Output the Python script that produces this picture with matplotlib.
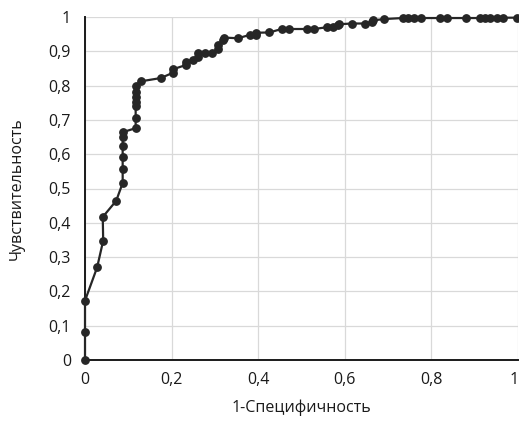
import matplotlib
matplotlib.use("Agg")
import matplotlib.pyplot as plt
from matplotlib.ticker import FixedLocator, FuncFormatter
import matplotlib.transforms as mtransforms

plt.rcParams['font.family'] = ['Open Sans', 'DejaVu Sans']

fpr = [0, 0, 0, 0.028, 0.042, 0.041, 0.072, 0.087, 0.087, 0.087, 0.087, 0.087, 0.087,
       0.117, 0.117, 0.117, 0.117, 0.117, 0.117, 0.117, 0.129, 0.175, 0.204, 0.204,
       0.233, 0.233, 0.249, 0.262, 0.262, 0.277, 0.293, 0.308, 0.308, 0.319, 0.322,
       0.353, 0.381, 0.395, 0.395, 0.426, 0.454, 0.470, 0.513, 0.529, 0.558, 0.573,
       0.585, 0.587, 0.617, 0.647, 0.662, 0.664, 0.691, 0.734, 0.747, 0.760, 0.775,
       0.821, 0.835, 0.881, 0.912, 0.924, 0.935, 0.951, 0.966, 0.997]
tpr = [0, 0.083, 0.173, 0.270, 0.348, 0.417, 0.464, 0.516, 0.556, 0.593, 0.624, 0.651, 0.664,
       0.676, 0.706, 0.740, 0.753, 0.768, 0.782, 0.799, 0.8125, 0.822, 0.838, 0.848,
       0.860, 0.870, 0.875, 0.884, 0.894, 0.894, 0.894, 0.906, 0.918, 0.933, 0.940,
       0.938, 0.948, 0.948, 0.954, 0.955, 0.965, 0.965, 0.965, 0.965, 0.970, 0.970,
       0.976, 0.979, 0.981, 0.981, 0.985, 0.990, 0.994, 0.997, 0.997, 0.997, 0.997,
       0.997, 0.997, 0.997, 0.997, 0.997, 0.997, 0.998, 0.998, 0.998]

x_ticks = [0, 0.2, 0.4, 0.6, 0.8, 1.0]
y_ticks = [0, 0.1, 0.2, 0.3, 0.4, 0.5, 0.6, 0.7, 0.8, 0.9, 1.0]
x_label = "1-Специфичность"
y_label = "Чувствительность"

fig = plt.figure(figsize=(5.19, 4.26), dpi=100)
ax = fig.add_axes([85/519, 66/426, 433/519, 343/426])

ax.plot(fpr, tpr, color='#262626', lw=1.6, marker='o', ms=5.3, clip_on=False, zorder=3)

ax.set_xlim(0, 1)
ax.set_ylim(0, 1)
ax.xaxis.set_major_locator(FixedLocator(x_ticks))
ax.yaxis.set_major_locator(FixedLocator(y_ticks))

def fmt(v, pos):
    s = f"{v:.1f}".rstrip('0').rstrip('.')
    return s.replace('.', ',')

ax.xaxis.set_major_formatter(FuncFormatter(fmt))
ax.yaxis.set_major_formatter(FuncFormatter(fmt))

ax.grid(True, color='#d9d9d9', lw=0.9)
ax.set_axisbelow(True)
for s in ['top', 'right']:
    ax.spines[s].set_visible(False)
for s in ['left', 'bottom']:
    ax.spines[s].set_color('#1a1a1a')
    ax.spines[s].set_linewidth(1.4)

ax.tick_params(axis='both', length=0, labelsize=11.5, colors='#1a1a1a')
ax.tick_params(axis='x', pad=9)
ax.tick_params(axis='y', pad=10)

ax.set_xlabel(x_label, fontsize=11.5, labelpad=8, color='#1a1a1a')
ax.set_ylabel(y_label, fontsize=11.5, labelpad=17, color='#1a1a1a')

fig.canvas.draw()
last = ax.get_xticklabels()[-1]
last.set_transform(last.get_transform() + mtransforms.ScaledTranslation(-4/100, 0, fig.dpi_scale_trans))

fig.savefig("out.png", dpi=100)
